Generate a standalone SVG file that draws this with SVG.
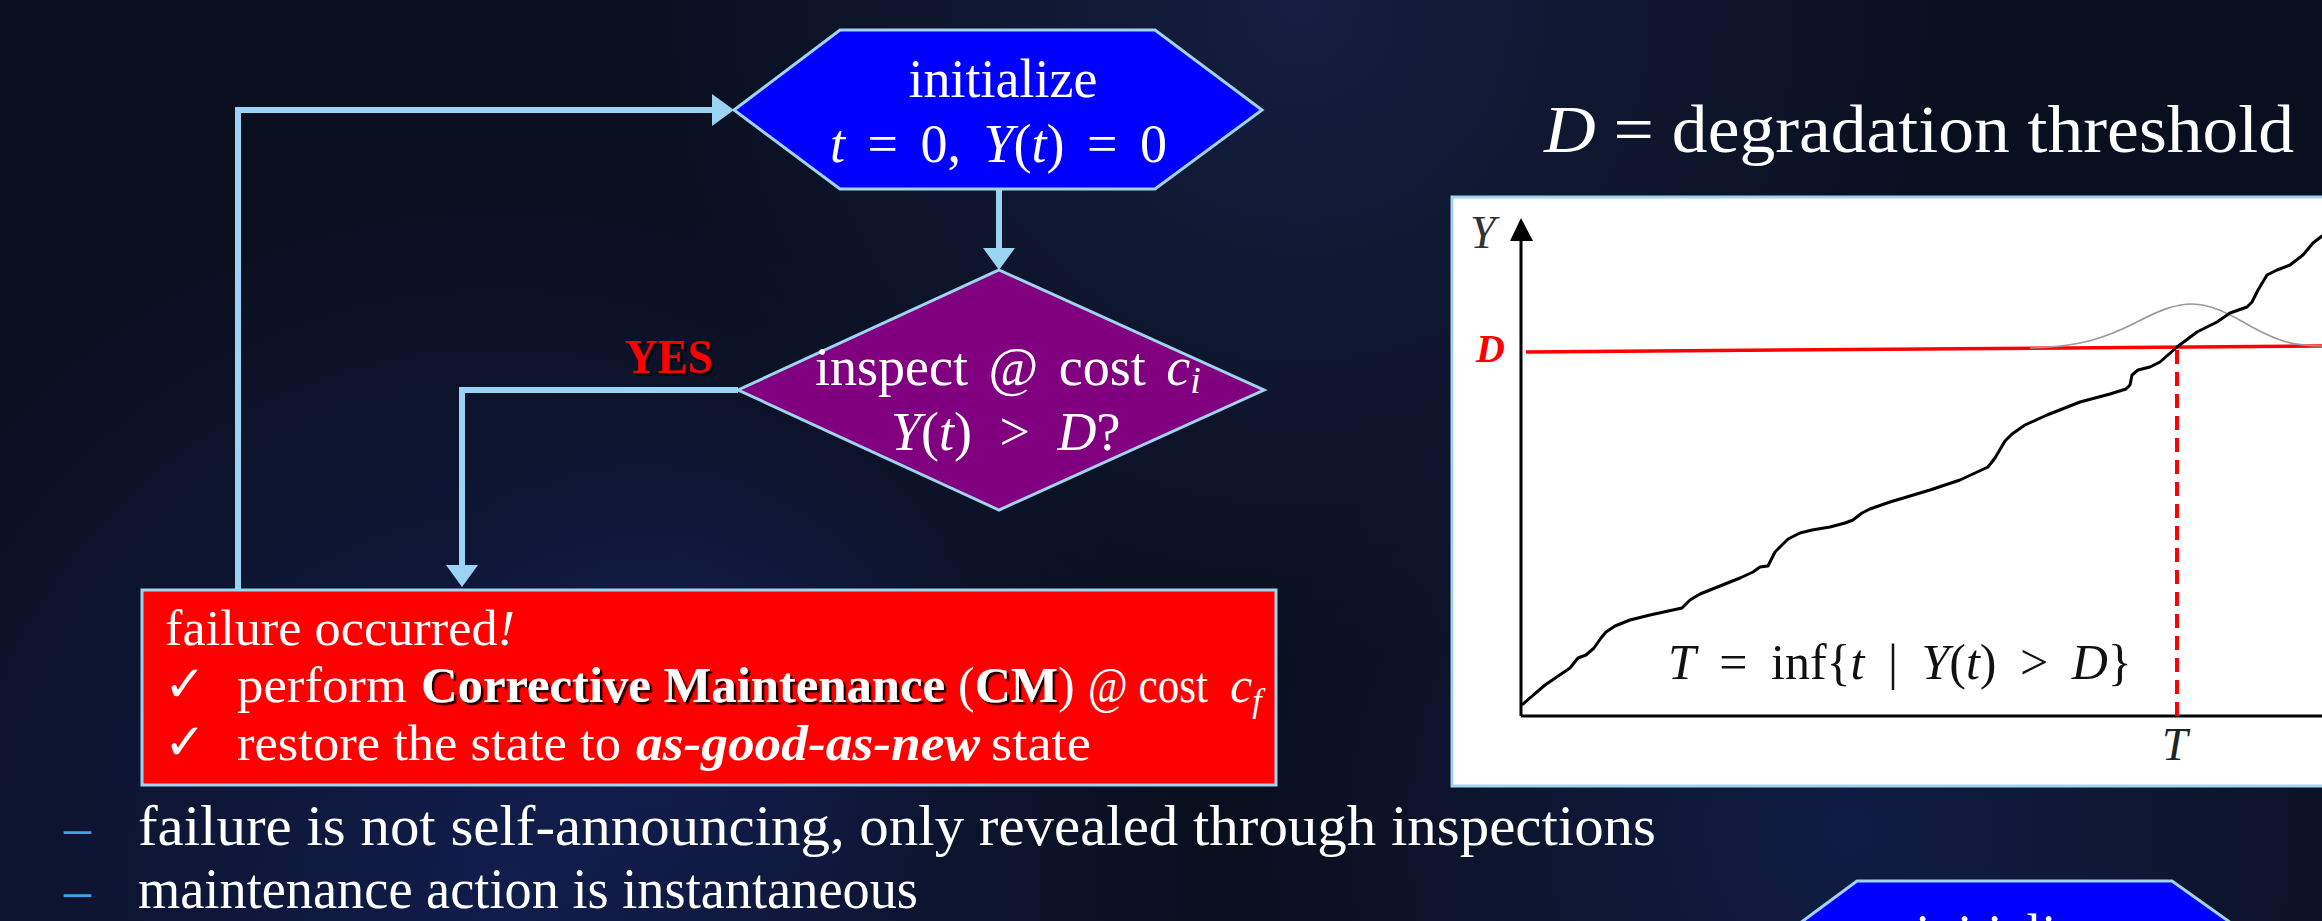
<svg xmlns="http://www.w3.org/2000/svg" width="2322" height="921" viewBox="0 0 2322 921">
<style>
.conn{fill:none;stroke:#9ad4f2;stroke-width:6}
.ser{font-family:"Liberation Serif","Times New Roman",serif}
.w{fill:#ffffff}
.it{font-style:italic}
.b{font-weight:bold}
.nodeStroke{stroke:#9fd3ee;stroke-width:3}
</style>
<defs>
<radialGradient id="g1" cx="1300" cy="10" r="650" gradientUnits="userSpaceOnUse">
<stop offset="0" stop-color="#1c2a5c" stop-opacity="0.55"/>
<stop offset="1" stop-color="#1c2a5c" stop-opacity="0"/>
</radialGradient>
<radialGradient id="g2" cx="500" cy="890" r="700" gradientUnits="userSpaceOnUse">
<stop offset="0" stop-color="#13235e" stop-opacity="0.7"/>
<stop offset="1" stop-color="#13235e" stop-opacity="0"/>
</radialGradient>
<radialGradient id="g3" cx="1850" cy="830" r="600" gradientUnits="userSpaceOnUse">
<stop offset="0" stop-color="#15255e" stop-opacity="0.6"/>
<stop offset="1" stop-color="#15255e" stop-opacity="0"/>
</radialGradient>
<radialGradient id="g4" cx="700" cy="700" r="300" gradientUnits="userSpaceOnUse">
<stop offset="0" stop-color="#14235a" stop-opacity="0.5"/>
<stop offset="1" stop-color="#14235a" stop-opacity="0"/>
</radialGradient>
<marker id="arr" viewBox="0 0 22 32" refX="11" refY="16" markerWidth="22" markerHeight="32" markerUnits="userSpaceOnUse" orient="auto">
<path d="M0,0 L22,16 L0,32 z" fill="#9ad4f2"/>
</marker>
<filter id="sh" x="-5%" y="-20%" width="110%" height="140%">
<feDropShadow dx="2.5" dy="2.5" stdDeviation="0.6" flood-color="#000" flood-opacity="0.9"/>
</filter>
</defs>

<!-- background -->
<rect x="0" y="0" width="2322" height="921" fill="#0a0f1f"/>
<rect x="0" y="0" width="2322" height="921" fill="url(#g1)"/>
<rect x="0" y="0" width="2322" height="921" fill="url(#g2)"/>
<rect x="0" y="0" width="2322" height="921" fill="url(#g3)"/>
<rect x="0" y="0" width="2322" height="921" fill="url(#g4)"/>

<!-- connectors -->
<g id="connectors">
<path class="conn" d="M238,590 L238,110 L723,110" marker-end="url(#arr)"/>
<path class="conn" d="M999,190 L999,259" marker-end="url(#arr)"/>
<path class="conn" d="M738,390 L462,390 L462,576" marker-end="url(#arr)"/>
<text class="ser b" x="625" y="373" font-size="48" fill="#ff0000" textLength="88" lengthAdjust="spacingAndGlyphs" filter="url(#sh)">YES</text>
</g>

<!-- init node -->
<g id="node-init">
<polygon class="nodeStroke" points="734,110 840,30 1155,30 1262,110 1155,189 840,189" fill="#0000ff"/>
<text class="ser w" x="1003" y="97" font-size="54" text-anchor="middle">initialize</text>
<text class="ser w" x="830" y="162" font-size="54" word-spacing="9"><tspan class="it">t</tspan> = 0, <tspan class="it">Y</tspan>(<tspan class="it">t</tspan>) = 0</text>
</g>

<!-- inspect node -->
<g id="node-inspect">
<polygon class="nodeStroke" points="999,270 1264,390 999,510 738,390" fill="#800080"/>
<text class="ser w" x="815" y="385" font-size="54" word-spacing="7">inspect @ cost <tspan class="it">c</tspan><tspan class="it" font-size="38" dy="8">i</tspan></text>
<text class="ser w" x="891" y="450" font-size="54" word-spacing="14"><tspan class="it">Y</tspan>(<tspan class="it">t</tspan>) &gt; <tspan class="it">D</tspan>?</text>
</g>

<!-- failure node -->
<g id="node-failure">
<rect class="nodeStroke" x="142" y="590" width="1134" height="195" fill="#ff0000"/>
<text class="ser w" x="165" y="645" font-size="50" textLength="350" lengthAdjust="spacingAndGlyphs">failure occurred<tspan class="it">!</tspan></text>
<text class="w" x="164" y="701" font-size="50" font-family="DejaVu Sans, sans-serif">✓</text>
<text class="ser w" x="237" y="702" font-size="50" textLength="170" lengthAdjust="spacingAndGlyphs">perform</text>
<text class="ser w b" x="421" y="702" font-size="50" textLength="524" lengthAdjust="spacingAndGlyphs" filter="url(#sh)">Corrective Maintenance</text>
<text class="ser w" x="958" y="702" font-size="50">(<tspan class="b" filter="url(#sh)">CM</tspan>)</text>
<text class="ser w" x="1088" y="702" font-size="50" textLength="120" lengthAdjust="spacingAndGlyphs">@ cost</text>
<text class="ser w it" x="1230" y="702" font-size="50">c<tspan font-size="34" dy="10">f</tspan></text>
<text class="w" x="164" y="759" font-size="50" font-family="DejaVu Sans, sans-serif">✓</text>
<text class="ser w" x="237" y="760" font-size="50" textLength="384" lengthAdjust="spacingAndGlyphs">restore the state to</text>
<text class="ser w b it" x="636" y="760" font-size="50" textLength="344" lengthAdjust="spacingAndGlyphs">as-good-as-new</text>
<text class="ser w" x="991" y="760" font-size="50" textLength="100" lengthAdjust="spacingAndGlyphs">state</text>
</g>

<!-- bullets -->
<g id="bullets">
<text class="ser" x="64" y="845" font-size="54" fill="#3aa2ea">–</text>
<text class="ser w" x="138" y="845" font-size="56" textLength="1518" lengthAdjust="spacingAndGlyphs">failure is not self-announcing, only revealed through inspections</text>
<text class="ser" x="64" y="908" font-size="54" fill="#3aa2ea">–</text>
<text class="ser w" x="138" y="908" font-size="56" textLength="780" lengthAdjust="spacingAndGlyphs">maintenance action is instantaneous</text>
</g>

<!-- heading -->
<text class="ser w" x="1544" y="152" font-size="68" textLength="750" lengthAdjust="spacingAndGlyphs"><tspan class="it">D</tspan> = degradation threshold</text>

<!-- chart -->
<g id="chart">
<rect x="1452" y="197" width="900" height="589" fill="#ffffff" stroke="#9fd3ee" stroke-width="3"/>
<line x1="1521" y1="716" x2="2322" y2="716" stroke="#000" stroke-width="3"/>
<line x1="1521" y1="716" x2="1521" y2="238" stroke="#000" stroke-width="3"/>
<polygon points="1510,241 1521,218 1533,241" fill="#000"/>
<text class="ser it" x="1470" y="248" font-size="46" fill="#333">Y</text>
<text class="ser it b" x="1476" y="362" font-size="40" fill="#ff0000">D</text>
<line x1="1526" y1="352" x2="2322" y2="346" stroke="#ff0000" stroke-width="3.5"/>
<path d="M2030,348 C2080,347 2105,338 2135,323 C2160,310 2175,304 2192,304 C2210,304 2228,313 2252,327 C2278,341 2292,346 2322,346" fill="none" stroke="#999" stroke-width="1.6"/>
<line x1="2177" y1="350" x2="2177" y2="716" stroke="#ff0000" stroke-width="4" stroke-dasharray="14 8"/>
<polyline fill="none" stroke="#000" stroke-width="3" stroke-linejoin="round" stroke-linecap="round" points="1523,704 1545,685 1570,668 1578,658 1586,655 1594,648 1601,638 1606,632 1615,626 1630,620 1650,615 1682,608 1690,600 1700,594 1720,586 1740,578 1753,572 1760,567 1768,566 1775,552 1788,539 1800,533 1812,530 1830,527 1845,523 1853,520 1862,513 1870,509 1890,502 1930,490 1960,480 1988,467 1995,458 2005,441 2012,434 2025,425 2047,415 2080,402 2110,394 2126,389 2130,385 2132,375 2138,370 2150,367 2160,362 2177,347 2197,332 2217,322 2230,313 2247,307 2252,302 2258,290 2267,275 2277,270 2290,265 2303,255 2313,243 2322,236"/>
<text class="ser" x="1668" y="679" font-size="50" fill="#111" word-spacing="11"><tspan class="it">T</tspan> = inf{<tspan class="it">t</tspan> | <tspan class="it">Y</tspan>(<tspan class="it">t</tspan>) &gt; <tspan class="it">D</tspan>}</text>
<text class="ser it" x="2162" y="760" font-size="46" fill="#222">T</text>
</g>

<!-- partial init node bottom right -->
<g id="node-init2">
<polygon class="nodeStroke" points="1857,881 2172,881 2283,960 1750,960" fill="#0000ff"/>
<text class="ser w" x="2010" y="952" font-size="54" text-anchor="middle">initialize</text>
</g>
</svg>
